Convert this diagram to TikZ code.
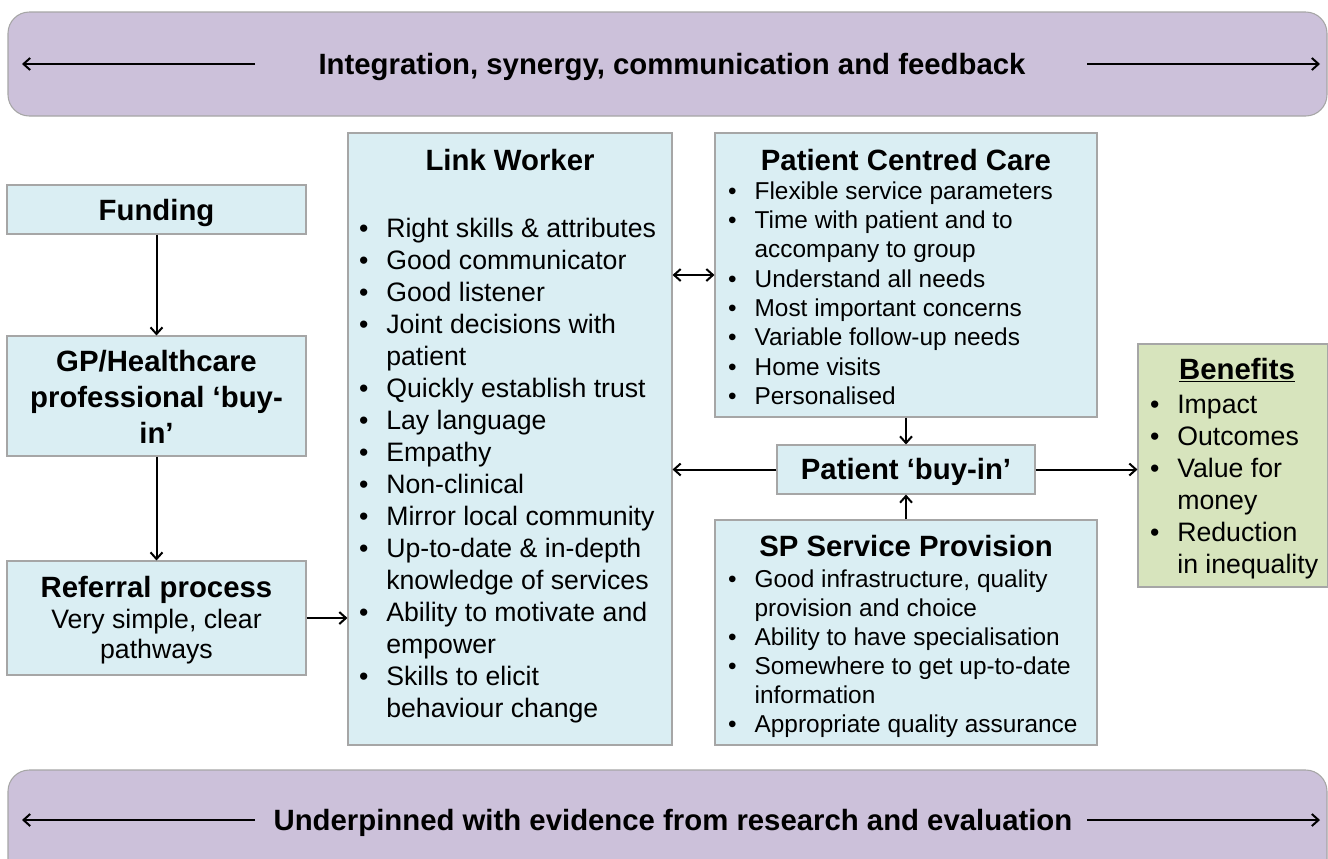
\documentclass[tikz,border=0pt]{standalone}
\usepackage{fontspec}
\setmainfont{Liberation Sans}
\usetikzlibrary{arrows.meta}
\definecolor{boxblue}{HTML}{DAEEF3}
\definecolor{boxgreen}{HTML}{D7E4BD}
\definecolor{bandcol}{HTML}{CCC1DA}
\definecolor{edgecol}{HTML}{A6A6A6}
\newcommand\ttlfont{\fontsize{22}{27}\bfseries\selectfont}
\newcommand\lwfont{\fontsize{20}{24}\selectfont}
\newcommand\pcfont{\fontsize{18.3}{22}\selectfont}
\begin{document}
\begin{tikzpicture}[x=0.75pt,y=-0.75pt,
  >={Straight Barb[length=5pt,width=9pt]},
  arr/.style={->,line width=1.5pt},
  darr/.style={<->,line width=1.5pt},
  boxb/.style={draw=edgecol,fill=boxblue,line width=0.8pt,inner sep=0pt},
  boxg/.style={draw=edgecol,fill=boxgreen,line width=0.8pt,inner sep=0pt},
  band/.style={draw=edgecol,fill=bandcol,line width=0.8pt,rounded corners=16pt},
  txt/.style={inner sep=0pt,outer sep=0pt,align=center}]
\useasboundingbox (0,0) rectangle (1328,858);
\renewcommand\arraystretch{1}
% bands
\draw[band] (8,12) rectangle (1327,116);
\draw[band] (8,770) rectangle (1327,880);
\node[txt,anchor=base] (top) at (672,74) {\ttlfont Integration, synergy, communication and feedback};
\node[txt,anchor=base] (bot) at (673,830) {\ttlfont Underpinned with evidence from research and evaluation};
\coordinate (tla) at (255,64); \coordinate (tlb) at (22,64);
\coordinate (tra) at (1087,64); \coordinate (trb) at (1320,64);
\coordinate (bla) at (255,820); \coordinate (blb) at (22,820);
\coordinate (bra) at (1087,820); \coordinate (brb) at (1320,820);
\draw[arr] (tla) -- (tlb);
\draw[arr] (tra) -- (trb);
\draw[arr] (bla) -- (blb);
\draw[arr] (bra) -- (brb);
% boxes
\node[boxb,minimum width=224.25pt,minimum height=36.75pt] (fund) at (156.5,209.5) {};
\node[boxb,minimum width=224.25pt,minimum height=90pt] (gp) at (156.5,396) {};
\node[boxb,minimum width=224.25pt,minimum height=85.5pt] (ref) at (156.5,618) {};
\node[boxb,minimum width=243pt,minimum height=459pt] (lw) at (510,439) {};
\node[boxb,minimum width=286.5pt,minimum height=213pt] (pcc) at (906,275) {};
\node[boxb,minimum width=193.5pt,minimum height=36.75pt] (buy) at (906,469.5) {};
\node[boxb,minimum width=286.5pt,minimum height=168.75pt] (sp) at (906,632.5) {};
\node[boxg,minimum width=142.5pt,minimum height=182.25pt] (ben) at (1233,465.5) {};
% texts
\node[txt,anchor=base] (fundt) at (156.5,220) {\ttlfont Funding};
\node[txt,anchor=base] (gpt) at (156.5,371) {\ttlfont\begin{tabular}[t]{@{}c@{}}GP/Healthcare\\[0pt]professional ‘buy-\\in’\end{tabular}};
\node[txt,anchor=base] (reft) at (156.5,597) {\ttlfont Referral process};
\node[txt,anchor=base] (refs) at (156.5,628) {\fontsize{20}{22.5}\selectfont\begin{tabular}[t]{@{}c@{}}Very simple, clear\\pathways\end{tabular}};
\node[txt,anchor=base] (lwt) at (510,170) {\ttlfont Link Worker};
\node[txt,anchor=base west] (lwl) at (359,237.5) {\lwfont\begin{tabular}[t]{@{}p{20.5pt}@{}l@{}}
\textbullet & Right skills \& attributes\\
\textbullet & Good communicator\\
\textbullet & Good listener\\
\textbullet & Joint decisions with\\
 & patient\\
\textbullet & Quickly establish trust\\
\textbullet & Lay language\\
\textbullet & Empathy\\
\textbullet & Non-clinical\\
\textbullet & Mirror local community\\
\textbullet & Up-to-date \& in-depth\\
 & knowledge of services\\
\textbullet & Ability to motivate and\\
 & empower\\
\textbullet & Skills to elicit\\
 & behaviour change
\end{tabular}};
\node[txt,anchor=base] (pcct) at (906,170) {\ttlfont Patient Centred Care};
\node[txt,anchor=base west] (pccl) at (728,199) {\pcfont\begin{tabular}[t]{@{}p{20pt}@{}l@{}}
\textbullet & Flexible service parameters\\
\textbullet & Time with patient and to\\
 & accompany to group\\
\textbullet & Understand all needs\\
\textbullet & Most important concerns\\
\textbullet & Variable follow-up needs\\
\textbullet & Home visits\\
\textbullet & Personalised
\end{tabular}};
\node[txt,anchor=base] (buyt) at (906,479.5) {\ttlfont Patient ‘buy-in’};
\node[txt,anchor=base] (spt) at (906,556.5) {\ttlfont SP Service Provision};
\node[txt,anchor=base west] (spl) at (728,587) {\fontsize{18.3}{21.75}\selectfont\begin{tabular}[t]{@{}p{20pt}@{}l@{}}
\textbullet & Good infrastructure, quality\\
 & provision and choice\\
\textbullet & Ability to have specialisation\\
\textbullet & Somewhere to get up-to-date\\
 & information\\
\textbullet & Appropriate quality assurance
\end{tabular}};
\node[txt,anchor=base] (bent) at (1237,379.5) {\ttlfont\underline{Benefits}};
\node[txt,anchor=base west] (benl) at (1150,413.5) {\lwfont\begin{tabular}[t]{@{}p{20.5pt}@{}l@{}}
\textbullet & Impact\\
\textbullet & Outcomes\\
\textbullet & Value for\\
 & money\\
\textbullet & Reduction\\
 & in inequality
\end{tabular}};
% connectors
\draw[arr] (fund.south) -- (gp.north);
\draw[arr] (gp.south) -- (ref.north);
\draw[arr] (ref.east) -- (ref.east -| lw.west);
\draw[darr] (pcc.west) -- (pcc.west -| lw.east);
\draw[arr] (pcc.south) -- (buy.north);
\draw[arr] (sp.north) -- (buy.south);
\draw[arr] (buy.west) -- (buy.west -| lw.east);
\draw[arr] (buy.east) -- (buy.east -| ben.west);
\end{tikzpicture}
\end{document}
